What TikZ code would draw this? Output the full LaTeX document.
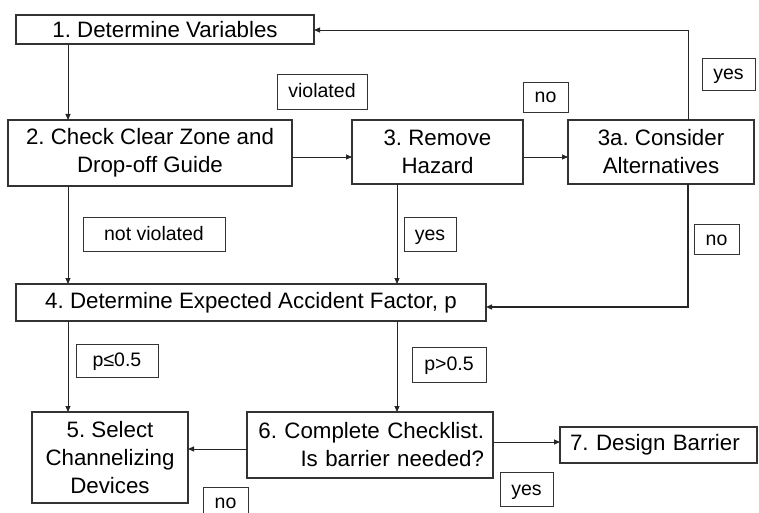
\documentclass[tikz,border=0pt]{standalone}
\usepackage{fontspec}
\setmainfont{Liberation Sans}
\usetikzlibrary{arrows.meta}
\frenchspacing
\begin{document}
\begin{tikzpicture}[x=1pt,y=-1pt,
  box/.style={draw=black!80, line width=1.1pt, rectangle, inner sep=0pt, outer sep=0pt, anchor=north west, font=\fontsize{22.3}{28}\selectfont, align=center},
  lbl/.style={draw=black!80, line width=0.9pt, rectangle, inner sep=0pt, outer sep=0pt, anchor=north west, font=\fontsize{19.5}{24}\selectfont, text height=15pt, text depth=3pt},
  arr/.style={draw=black!85, line width=0.9pt, -{Triangle[length=6pt,width=5pt]}}]
\fill[white] (0,0) rectangle (759,513);
\useasboundingbox (0,0) rectangle (759,513);
\clip (0,0) rectangle (759,513);
% boxes
\node[box, minimum width=298pt, minimum height=29pt] (b1) at (16,15) {1. Determine Variables};
\node[box, minimum width=284pt, minimum height=66pt] (b2) at (8,120) {2. Check Clear Zone and\\Drop-off Guide};
\node[box, minimum width=171pt, minimum height=64pt] (b3) at (352,120) {3. Remove\\Hazard};
\node[box, minimum width=186pt, minimum height=64pt] (b3a) at (568,120) {3a. Consider\\Alternatives};
\node[box, minimum width=470pt, minimum height=37pt] (b4) at (16,284) {4. Determine Expected Accident Factor, p};
\node[box, minimum width=156pt, minimum height=91pt] (b5) at (32,412) {5. Select\\Channelizing\\Devices};
\node[box, minimum width=246pt, minimum height=66pt, text width=228pt, align=right] (b6) at (247,412) {6. Complete Checklist.\\Is barrier needed?};
\node[box, minimum height=36pt, text width=177pt, inner xsep=10pt, align=left] (b7) at (560,427) {7. Design Barrier};
% labels
\node[lbl, minimum width=90pt, minimum height=35pt] (lv) at (277,74) {violated};
\node[lbl, minimum width=45pt, minimum height=30pt] (ln1) at (523,82) {no};
\node[lbl, minimum width=53pt, minimum height=32pt] (ly1) at (702,58) {yes};
\node[lbl, minimum width=142pt, minimum height=34pt] (lnv) at (83,217) {not violated};
\node[lbl, minimum width=52pt, minimum height=34pt] (ly2) at (404,217) {yes};
\node[lbl, minimum width=45pt, minimum height=30pt] (ln2) at (694,224) {no};
\node[lbl, minimum width=82pt, minimum height=33pt] (lple) at (76,344) {p≤0.5};
\node[lbl, minimum width=74pt, minimum height=35pt] (lpgt) at (412,347) {p>0.5};
\node[lbl, minimum width=45pt, minimum height=30pt] (ln3) at (203,487) {no};
\node[lbl, minimum width=53pt, minimum height=34pt] (ly3) at (500,472) {yes};
% helper coordinates
\coordinate (xa) at (68,0);
\coordinate (xb) at (397,0);
\coordinate (xc) at (688,0);
\coordinate (ya) at (0,157);
\coordinate (yb) at (0,30);
\coordinate (yc) at (0,307);
\coordinate (yd) at (0,449);
\coordinate (ye) at (0,442);
% connectors
\draw[arr] (b1.south -| xa) -- (b2.north -| xa);
\draw[arr] (b2.east |- ya) -- (b3.west |- ya);
\draw[arr] (b3.east |- ya) -- (b3a.west |- ya);
\draw[arr] (b3a.north -| xc) -- (xc |- yb) -- (b1.east |- yb);
\draw[arr] (b2.south -| xa) -- (b4.north -| xa);
\draw[arr] (b3.south -| xb) -- (b4.north -| xb);
\draw[arr, line width=1.3pt] (b3a.south -| xc) -- (xc |- yc) -- (b4.east |- yc);
\draw[arr] (b4.south -| xa) -- (b5.north -| xa);
\draw[arr] (b4.south -| xb) -- (b6.north -| xb);
\draw[arr] (b6.west |- yd) -- (b5.east |- yd);
\draw[arr] (b6.east |- ye) -- (b7.west |- ye);
\end{tikzpicture}
\end{document}
